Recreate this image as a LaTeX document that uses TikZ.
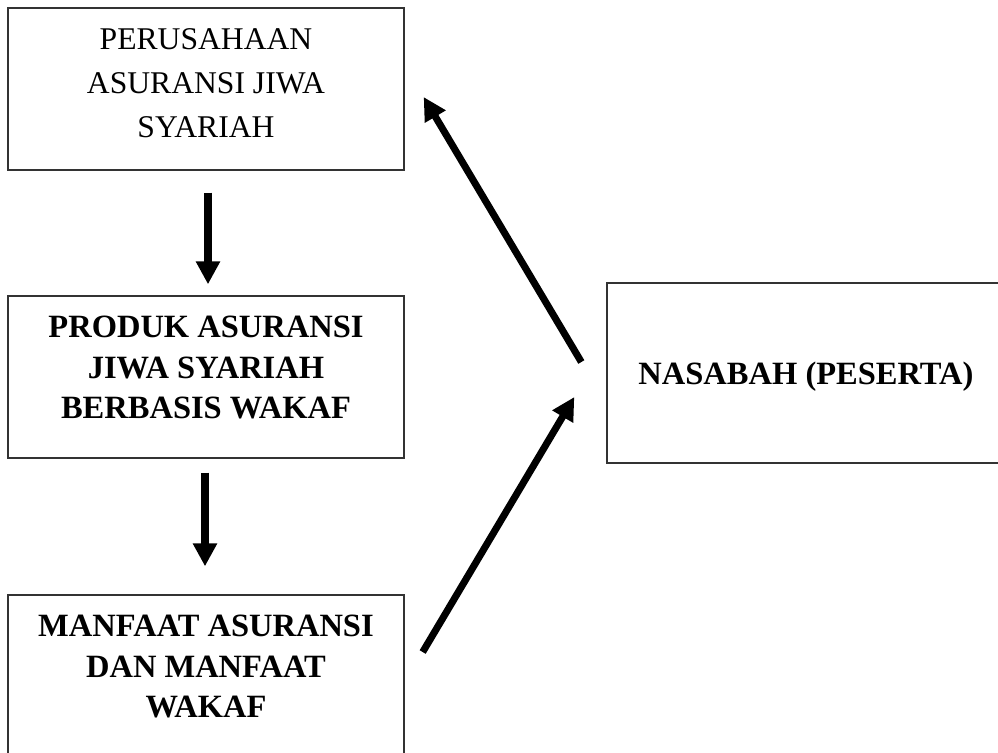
\documentclass[tikz,border=0pt]{standalone}
\usepackage{fontspec}
\setmainfont{Liberation Serif}
\usetikzlibrary{arrows.meta}

\tikzset{
	kotak/.style={draw=black!80, line width=0.8pt, minimum width=7.92cm, minimum height=3.24cm, inner sep=0pt, align=center, text depth=0.24cm, font=\fontsize{18}{25.2}\selectfont},
	tebal/.style={kotak, text depth=0.38cm, font=\fontsize{18.5}{23}\selectfont\bfseries},
	panah/.style={line width=4pt}
}

\begin{document}
\begin{tikzpicture}[->, >={Triangle[length=13pt, width=13pt]}, x=0.02cm, y=-0.02cm]
		\useasboundingbox (0, 0) rectangle (998, 752);
		\clip (0, 0) rectangle (998, 752);
		
		\node[kotak] (perusahaan) at (206, 89) {PERUSAHAAN\\ASURANSI JIWA\\SYARIAH};
		\node[tebal] (produk) at (206, 377) {PRODUK ASURANSI\\JIWA SYARIAH\\BERBASIS WAKAF};
		\node[tebal] (manfaat) at (206, 676) {MANFAAT ASURANSI\\DAN MANFAAT\\WAKAF};
		\node[tebal, text depth=0pt, minimum width=7.96cm, minimum height=3.6cm] (nasabah) at (806, 373) {NASABAH (PESERTA)};
		
		\draw[panah, shorten <=0.44cm, shorten >=0.22cm] ([xshift=0.04cm]perusahaan.south) -- ([xshift=0.04cm]produk.north);
		\draw[panah, shorten <=0.28cm, shorten >=0.56cm] ([xshift=-0.02cm]produk.south) -- ([xshift=-0.02cm]manfaat.north);
		\draw[panah] ([xshift=-0.5cm, yshift=0.22cm]nasabah.west) -- ([xshift=0.38cm, yshift=-0.16cm]perusahaan.east);
		\draw[panah] ([xshift=0.36cm, yshift=0.48cm]manfaat.east) -- ([xshift=-0.64cm, yshift=-0.48cm]nasabah.west);
	\end{tikzpicture}
\end{document}
